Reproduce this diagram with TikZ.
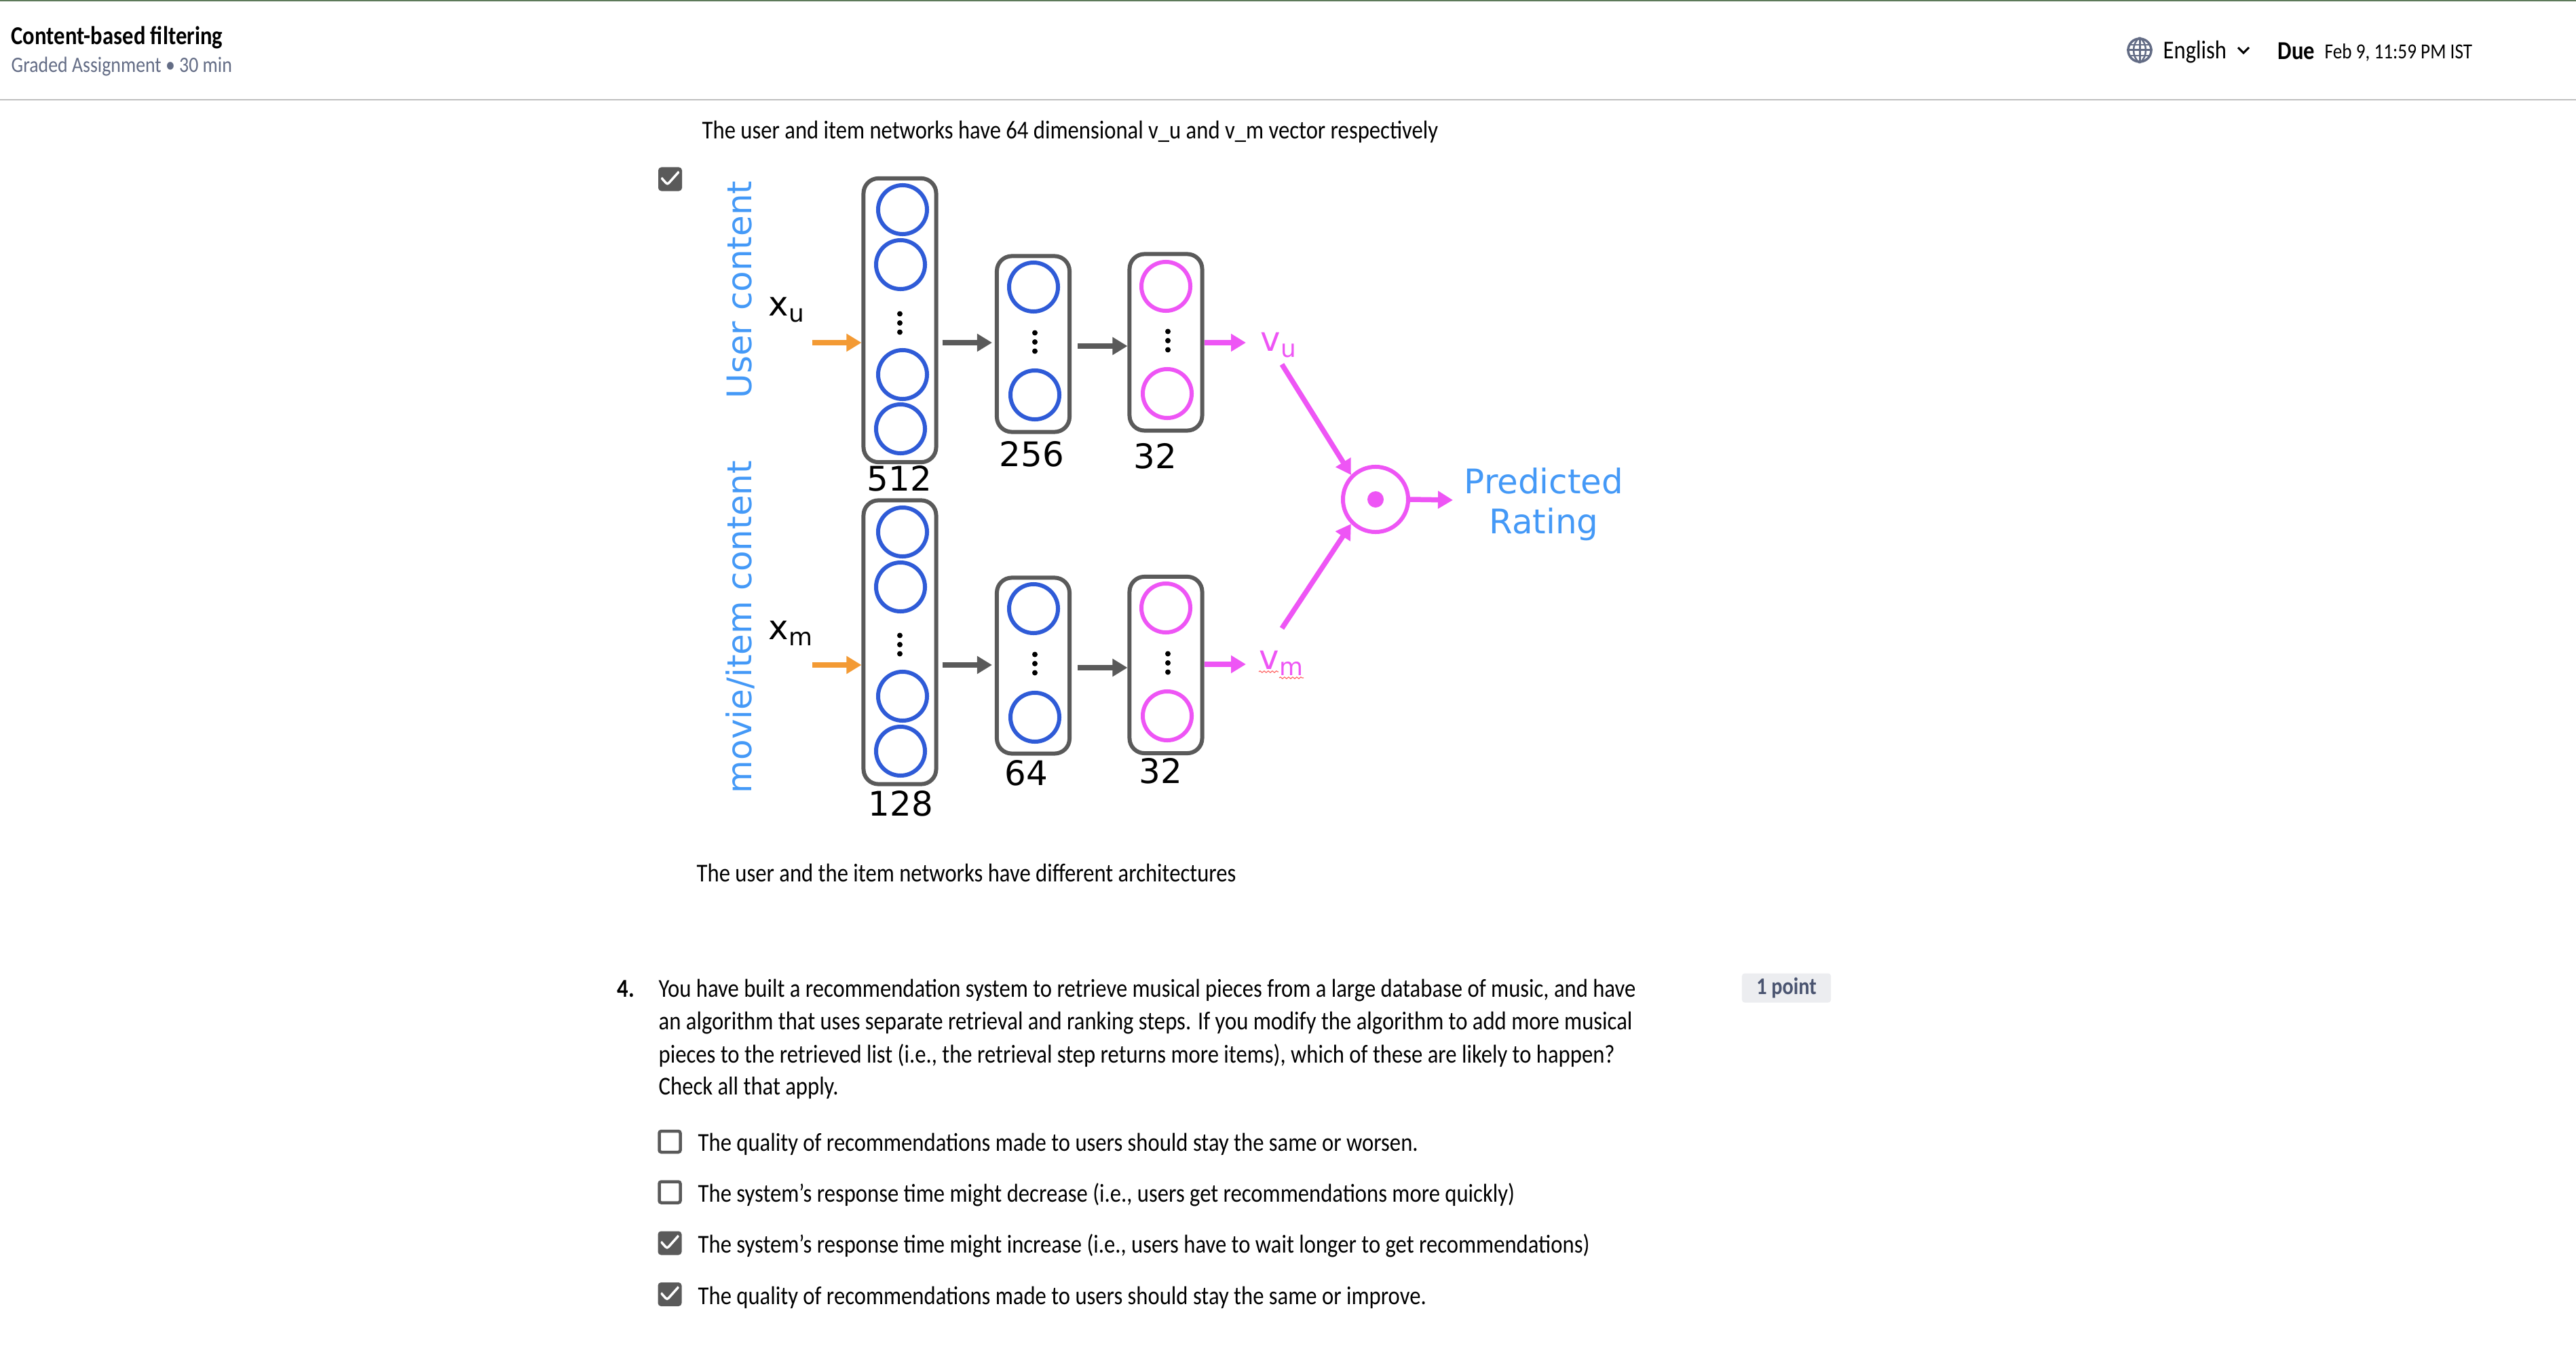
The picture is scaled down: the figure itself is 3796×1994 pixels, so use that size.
\documentclass[tikz,border=0pt]{standalone}
\usepackage{xcolor}
\usepackage{fontspec}
\setmainfont[FakeStretch=0.86]{Carlito}
\newfontfamily\diagfont{DejaVu Sans}
\usetikzlibrary{arrows.meta,positioning,calc,decorations.pathmorphing}

\definecolor{neuronblue}{HTML}{2F5BD7}
\definecolor{neuronpink}{HTML}{EE55F5}
\definecolor{boxgray}{HTML}{5A5A5A}
\definecolor{inorange}{HTML}{F39A34}
\definecolor{labelblue}{HTML}{4499F7}
\definecolor{slateink}{HTML}{636C85}
\definecolor{badgeink}{HTML}{4A5470}
\definecolor{headergreen}{HTML}{5D7A5A}

% subscript used in the network labels
\newcommand{\subtxt}[1]{\raisebox{-2.8pt}{\fontsize{10.2pt}{10.2pt}\selectfont #1}}

\begin{document}
\begin{tikzpicture}[
    x=0.01cm, y=-0.01cm,
    layerbox/.style={rectangle, draw=boxgray, line width=0.06cm, rounded corners=0.22cm, minimum width=1.07cm, inner sep=0},
    neuron/.style={circle, draw=neuronblue, line width=0.06cm, minimum size=0.72cm, inner sep=0},
    outneuron/.style={neuron, draw=neuronpink},
    vdotsmark/.style={rectangle, minimum width=0.1cm, minimum height=0.4cm, inner sep=0,
        path picture={\fill[black, shift={(path picture bounding box.center)}] (0,-13.5) circle (0.04cm) (0,0) circle (0.04cm) (0,13.5) circle (0.04cm);}},
    diaglabel/.style={inner sep=0, anchor=base west, font=\diagfont\fontsize{14.2pt}{16.7pt}\selectfont},
    sidelabel/.style={inner sep=0, rotate=90, anchor=base, text=labelblue, font=\diagfont\fontsize{14.2pt}{16pt}\selectfont},
    inline/.style={draw=inorange, line width=0.075cm, -{Triangle[length=0.22cm,width=0.25cm]}},
    flowline/.style={draw=boxgray, line width=0.075cm, -{Triangle[length=0.22cm,width=0.25cm]}},
    outline/.style={draw=neuronpink, line width=0.075cm, -{Triangle[length=0.22cm,width=0.25cm]}},
    body/.style={inner sep=0, anchor=base west, font=\fontsize{10.8pt}{13pt}\selectfont},
    tickbox/.style={rectangle, draw=boxgray, fill=boxgray, line width=0.04cm, rounded corners=0.03cm, minimum size=0.31cm, inner sep=0,
        path picture={\draw[white, line width=0.035cm, shift={(path picture bounding box.center)}] (-13,-2) -- (-4,8) -- (13,-11);}},
    emptybox/.style={rectangle, draw=boxgray, line width=0.045cm, rounded corners=0.03cm, minimum size=0.31cm, inner sep=0}
]
    \useasboundingbox (0,0) rectangle (3796,1994);
    \fill[white] (0,0) rectangle (3796,1994);

    % Page header
    \fill[headergreen] (0,0) rectangle (3796,2);
    \fill[black!25] (0,146) rectangle (3796,148);
    \node [body, font=\bfseries\fontsize{10.8pt}{13pt}\selectfont] (title) at (16,66) {Content-based filtering};
    \node [body, text=slateink, font=\fontsize{9.2pt}{12pt}\selectfont] (subtitle) at (16,107) {Graded Assignment • 30 min};
    \node [circle, draw=slateink, line width=0.035cm, minimum size=0.34cm, inner sep=0] (globe) at (3153,74) {};
    \draw [slateink, line width=0.03cm] (globe.west) -- (globe.east);
    \draw [slateink, line width=0.03cm] (globe.north) -- (globe.south);
    \draw [slateink, line width=0.025cm] (3138,66) -- (3168,66);
    \draw [slateink, line width=0.025cm] (3138,82) -- (3168,82);
    \draw [slateink, line width=0.025cm] (globe.north) .. controls (3141,64) and (3141,84) .. (globe.south);
    \draw [slateink, line width=0.025cm] (globe.north) .. controls (3165,64) and (3165,84) .. (globe.south);
    \node [body] (language) at (3187,87) {English};
    \draw [black, line width=0.03cm] (3298,70) -- (3306,78) -- (3314,70);
    \node [body, font=\bfseries\fontsize{10.8pt}{13pt}\selectfont] (due) at (3356,88) {Due};
    \node [body, font=\fontsize{9pt}{12pt}\selectfont] (deadline) at (3425,87) {Feb 9, 11:59 PM IST};

    % Answer above the figure
    \node [body] (captiontop) at (1034,205) {The user and item networks have 64 dimensional v\_u and v\_m vector respectively};
    \node [tickbox] (check) at (987.5,264) {};

    % Side labels
    \node [sidelabel] (userlabel) at (1107,427) {User content};
    \node [sidelabel] (movielabel) at (1107,924) {movie/item content};
    \node [diaglabel] (xu) at (1132,465) {x\subtxt{u}};
    \node [diaglabel] (xm) at (1132,942) {x\subtxt{m}};

    % User network
    \node [layerbox, minimum height=4.18cm] (userA) at (1326,472) {};
    \node [layerbox, minimum height=2.59cm] (userB) at (1522.5,507) {};
    \node [layerbox, minimum height=2.60cm] (userC) at (1718,504.5) {};
    \node [neuron] (ua1) at (1330,309) {};
    \node [neuron] (ua2) at (1327,390) {};
    \node [vdotsmark] (uadots) at (1326,476) {};
    \node [neuron] (ua3) at (1330,552) {};
    \node [neuron] (ua4) at (1327,632) {};
    \node [neuron] (ub1) at (1523,423) {};
    \node [vdotsmark] (ubdots) at (1525,504) {};
    \node [neuron] (ub2) at (1525,582) {};
    \node [outneuron] (uc1) at (1718,422) {};
    \node [vdotsmark] (ucdots) at (1721,502) {};
    \node [outneuron] (uc2) at (1720,580) {};
    \node [diaglabel] at (1277,723) (n512) {512};
    \node [diaglabel] at (1472,687) (n256) {256};
    \node [diaglabel] at (1670,690) (n32a) {32};

    % Movie network
    \node [layerbox, minimum height=4.18cm] (movieA) at (1326,946.5) {};
    \node [layerbox, minimum height=2.59cm] (movieB) at (1522.5,981) {};
    \node [layerbox, minimum height=2.60cm] (movieC) at (1718,980) {};
    \node [neuron] (ma1) at (1330,784) {};
    \node [neuron] (ma2) at (1327,865) {};
    \node [vdotsmark] (madots) at (1326,950) {};
    \node [neuron] (ma3) at (1330,1026) {};
    \node [neuron] (ma4) at (1327,1107) {};
    \node [neuron] (mb1) at (1523,897) {};
    \node [vdotsmark] (mbdots) at (1525,978) {};
    \node [neuron] (mb2) at (1525,1057) {};
    \node [outneuron] (mc1) at (1718,896) {};
    \node [vdotsmark] (mcdots) at (1721,977) {};
    \node [outneuron] (mc2) at (1720,1055) {};
    \node [diaglabel] at (1279,1202) (n128) {128};
    \node [diaglabel] at (1480,1157) (n64) {64};
    \node [diaglabel] at (1678,1154) (n32b) {32};

    % Output side
    \node [diaglabel, text=neuronpink] (vu) at (1857,517) {v\subtxt{u}};
    \node [diaglabel, text=neuronpink] (vm) at (1855,986) {v\subtxt{m}};
    \draw [red!60, line width=0.012cm, decorate, decoration={snake, amplitude=0.012cm, segment length=0.06cm}] (1855,990) -- (1884,990);
    \draw [red!60, line width=0.012cm, decorate, decoration={snake, amplitude=0.012cm, segment length=0.06cm}] (1885,999) -- (1921,999);
    \node [circle, draw=neuronpink, line width=0.06cm, minimum size=0.96cm, inner sep=0] (product) at (2027,736) {};
    \node [circle, fill=neuronpink, minimum size=0.24cm, inner sep=0] (productdot) at (product) {};
    \node [inner sep=0, text=labelblue, align=center, font=\diagfont\fontsize{14.2pt}{16.7pt}\selectfont] (predicted) at (2275,743) {Predicted\\Rating};

    % Free ends of the arrows
    \coordinate (xuTail) at (1197,505);
    \coordinate (xmTail) at (1197,980);
    \coordinate (uRowB) at (1588,510);
    \coordinate (mRowB) at (1588,984);
    \coordinate (uOut) at (1836,505);
    \coordinate (mOut) at (1836,979);
    \coordinate (vuTail) at (1889,537);
    \coordinate (vmTail) at (1889,926);
    \coordinate (ratingTip) at (2141,737);

    % Edges
    \path [inline] (xuTail) -- (xuTail -| userA.west);
    \path [inline] (xmTail) -- (xmTail -| movieA.west);
    \path [flowline, shorten <=0.06cm, shorten >=0.04cm] (xuTail -| userA.east) -- (xuTail -| userB.west);
    \path [flowline, shorten <=0.06cm, shorten >=0.04cm] (xmTail -| movieA.east) -- (xmTail -| movieB.west);
    \path [flowline] (uRowB) -- (uRowB -| userC.west);
    \path [flowline] (mRowB) -- (mRowB -| movieC.west);
    \path [outline] (uOut -| userC.east) -- (uOut);
    \path [outline] (mOut -| movieC.east) -- (mOut);
    \path [outline] (vuTail) -- (product.135);
    \path [outline] (vmTail) -- (product.225);
    \path [outline] (product.east) -- (ratingTip);

    % Below the figure
    \node [body] (captionlow) at (1026,1299) {The user and the item networks have different architectures};

    % Question 4
    \node [body, font=\bfseries\fontsize{10.8pt}{13pt}\selectfont] (qnum) at (909,1469) {4.};
    \node [body] (qa) at (970,1469) {You have built a recommendation system to retrieve musical pieces from a large database of music, and have};
    \node [body] (qb) at (970,1517.5) {an algorithm that uses separate retrieval and ranking steps. If you modify the algorithm to add more musical};
    \node [body] (qc) at (970,1566) {pieces to the retrieved list (i.e., the retrieval step returns more items), which of these are likely to happen?};
    \node [body] (qd) at (970,1613) {Check all that apply.};
    \node [rectangle, fill=slateink!12, rounded corners=0.04cm, minimum width=1.31cm, minimum height=0.43cm, inner sep=0, text=badgeink, font=\bfseries\fontsize{10pt}{12pt}\selectfont] (points) at (2632.5,1456) {1 point};

    % Options
    \node [emptybox] (optA) at (987,1682.5) {};
    \node [body] (optAtext) at (1028,1696) {The quality of recommendations made to users should stay the same or worsen.};
    \node [emptybox] (optB) at (987,1757) {};
    \node [body] (optBtext) at (1028,1771) {The system’s response time might decrease (i.e., users get recommendations more quickly)};
    \node [tickbox] (optC) at (987,1832) {};
    \node [body] (optCtext) at (1028,1846) {The system’s response time might increase (i.e., users have to wait longer to get recommendations)};
    \node [tickbox] (optD) at (987,1907.5) {};
    \node [body] (optDtext) at (1028,1922) {The quality of recommendations made to users should stay the same or improve.};
\end{tikzpicture}
\end{document}
